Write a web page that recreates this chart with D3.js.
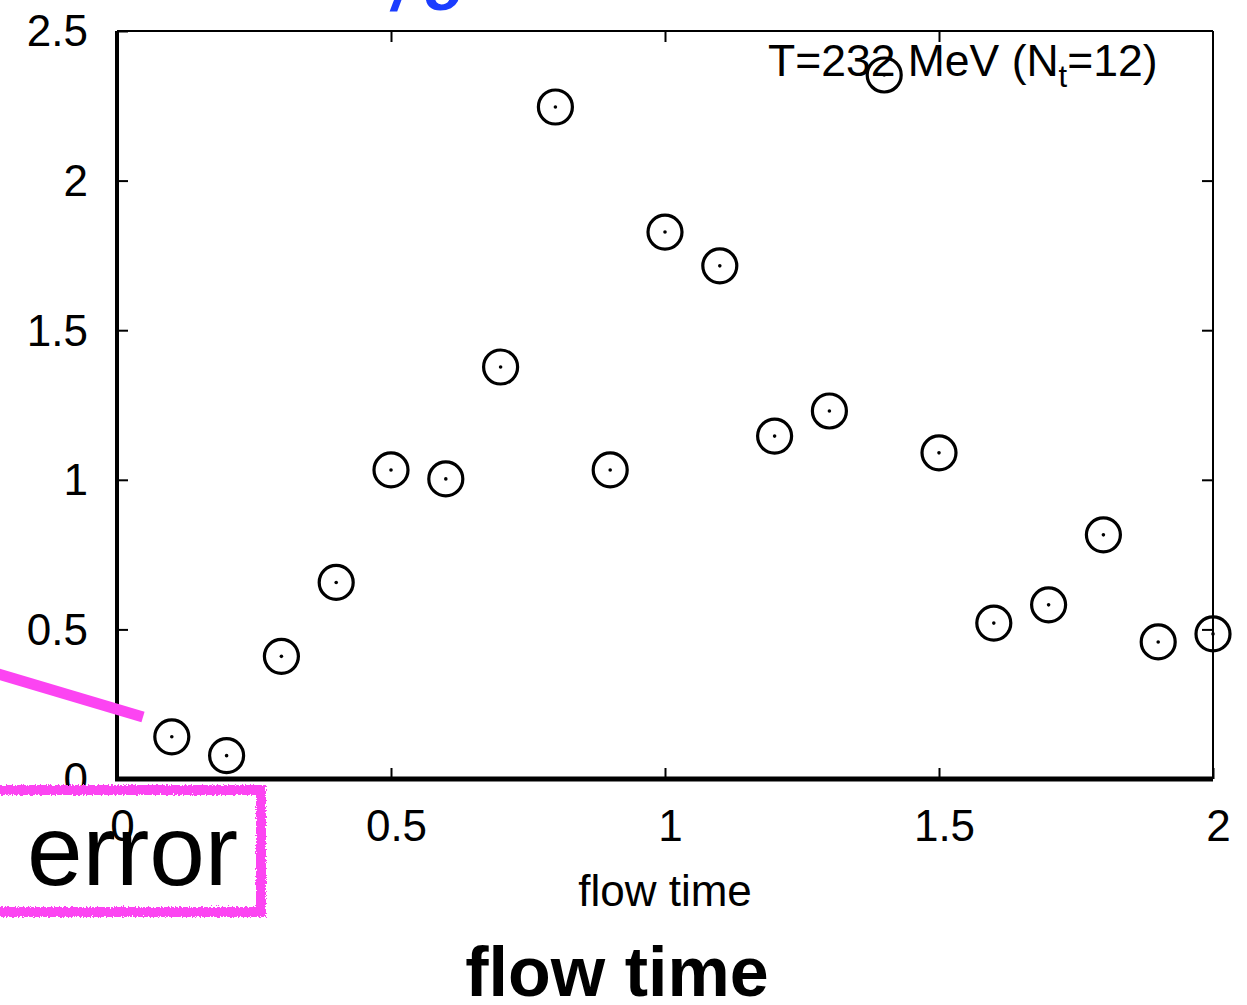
<!DOCTYPE html>
<html><head><meta charset="utf-8">
<script src="https://cdn.jsdelivr.net/npm/d3@7"></script>
<style>body{margin:0;background:#fff}svg{display:block}</style>
</head><body>
<script>
const flowTime = [0.1,0.2,0.3,0.4,0.5,0.6,0.7,0.8,0.9,1.0,1.1,1.2,1.3,1.4,1.5,1.6,1.7,1.8,1.9,2.0];
const errValues = [0.141,0.078,0.410,0.657,1.033,1.003,1.377,2.246,1.033,1.828,1.715,1.146,1.230,2.353,1.090,0.521,0.582,0.816,0.458,0.485];
const xTicks = [0,0.5,1,1.5,2];
const yTicks = [0,0.5,1,1.5,2,2.5];
const xTickLabels = ["0","0.5","1","1.5","2"];
const yTickLabels = ["0","0.5","1","1.5","2","2.5"];

const W=1247,H=1005;
const svg=d3.select("body").append("svg").attr("width",W).attr("height",H);
const defs=svg.append("defs");
const f=defs.append("filter").attr("id","rough").attr("x","-10%").attr("y","-10%").attr("width","120%").attr("height","120%");
f.append("feTurbulence").attr("type","fractalNoise").attr("baseFrequency","0.6").attr("numOctaves",2).attr("result","n");
f.append("feDisplacementMap").attr("in","SourceGraphic").attr("in2","n").attr("scale",5);

const L=117,R=1213,T=31,B=779;
const x=d3.scaleLinear().domain([0,2]).range([L,R]);
const y=d3.scaleLinear().domain([0,2.5]).range([B,T]);
const font="'Liberation Sans', Arial, Helvetica, sans-serif";

// top & right frame
svg.append("line").attr("x1",L).attr("x2",R).attr("y1",T).attr("y2",T).attr("stroke","#000").attr("stroke-width",2);
svg.append("line").attr("x1",R).attr("x2",R).attr("y1",T).attr("y2",B).attr("stroke","#000").attr("stroke-width",2);

// axes
const gx=svg.append("g").attr("transform",`translate(0,${B})`)
  .call(d3.axisBottom(x).tickValues(xTicks).tickSize(-11).tickPadding(0).tickFormat((d,i)=>xTickLabels[i]));
gx.select(".domain").attr("stroke-width",5).attr("d",`M${L-2},0H${R}`);
gx.selectAll(".tick line").attr("stroke-width",2);
gx.selectAll(".tick text").attr("font-family",font).attr("font-size",44).attr("dx",5).attr("dy",0).attr("y",62).attr("fill","#000");

const gy=svg.append("g").attr("transform",`translate(${L},0)`)
  .call(d3.axisLeft(y).tickValues(yTicks).tickSize(-11).tickPadding(29).tickFormat((d,i)=>yTickLabels[i]));
gy.select(".domain").attr("stroke-width",4).attr("d",`M0,${T}V${B+2}`);
gy.selectAll(".tick line").attr("stroke-width",2);
gy.selectAll(".tick text").attr("font-family",font).attr("font-size",44).attr("dy","0.34em").attr("fill","#000");

// right and top inward ticks
svg.append("g").attr("transform",`translate(${R},0)`)
  .call(d3.axisRight(y).tickValues(yTicks.slice(1,-1)).tickSize(-11).tickFormat(""))
  .call(g=>{g.select(".domain").remove();g.selectAll(".tick line").attr("stroke-width",2);});
svg.append("g").attr("transform",`translate(0,${T})`)
  .call(d3.axisTop(x).tickValues(xTicks.slice(1,-1)).tickSize(-11).tickFormat(""))
  .call(g=>{g.select(".domain").remove();g.selectAll(".tick line").attr("stroke-width",2);});

// axis label
svg.append("text").attr("x",(L+R)/2).attr("y",906).attr("text-anchor","middle")
  .attr("font-family",font).attr("font-size",44).text("flow time");

// annotation label
const lab=svg.append("text").attr("x",768).attr("y",76).attr("font-family",font).attr("font-size",44.5);
lab.append("tspan").text("T=232 MeV (N");
lab.append("tspan").attr("font-size",31).attr("dy",11).text("t");
lab.append("tspan").attr("dy",-11).text("=12)");

// points
const pts=svg.append("g");
pts.selectAll("circle.o").data(flowTime).join("circle").attr("class","o")
  .attr("cx",d=>x(d)).attr("cy",(d,i)=>y(errValues[i])).attr("r",17)
  .attr("fill","none").attr("stroke","#000").attr("stroke-width",3.2);
pts.selectAll("circle.c").data(flowTime).join("circle").attr("class","c")
  .attr("cx",d=>x(d)).attr("cy",(d,i)=>y(errValues[i])).attr("r",1.8).attr("fill","#000");

// overlay annotations
const bt=svg.append("text").attr("x",392).attr("y",10).attr("font-family",font).attr("font-weight","bold")
  .attr("font-style","italic").attr("font-size",64).attr("fill","#1a3cff");
bt.append("tspan").text("/");
bt.append("tspan").attr("dx",14).text("σ");
svg.append("line").attr("x1",-5).attr("y1",673).attr("x2",143).attr("y2",717)
  .attr("stroke","#fc44f2").attr("stroke-width",11);
svg.append("rect").attr("x",-20).attr("y",790).attr("width",281).attr("height",122)
  .attr("fill","none").attr("stroke","#fc44f2").attr("stroke-width",10).attr("filter","url(#rough)");
svg.append("text").attr("x",27).attr("y",885).attr("font-family",font).attr("font-size",100).text("error");
svg.append("text").attr("x",617).attr("y",996).attr("text-anchor","middle").attr("font-family",font)
  .attr("font-weight","bold").attr("font-size",70).text("flow time");
</script>
</body></html>
